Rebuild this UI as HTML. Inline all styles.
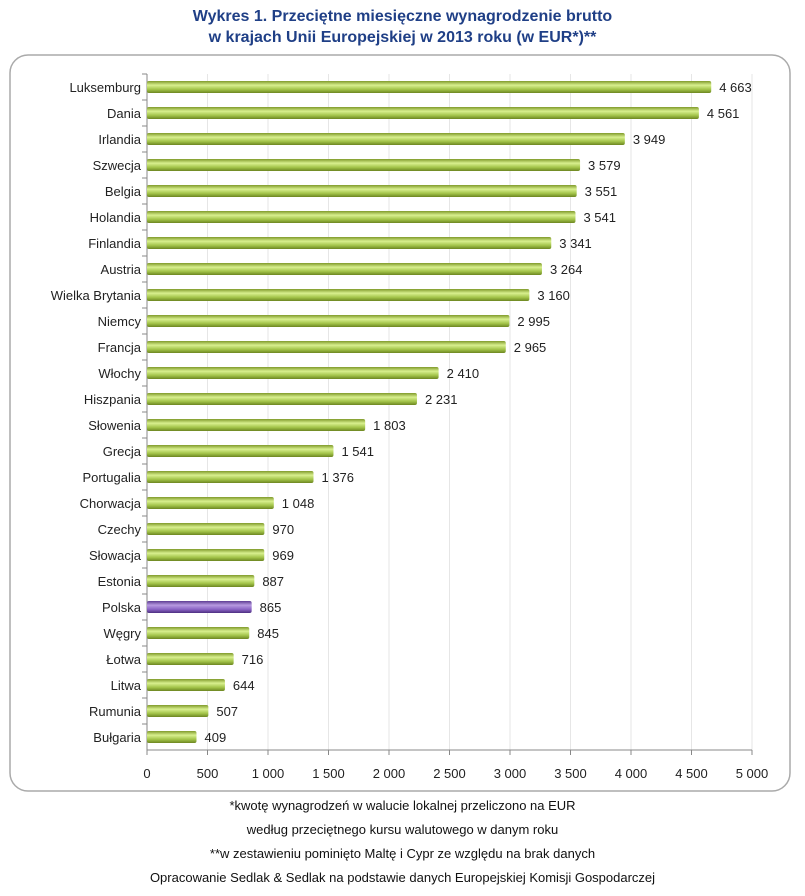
<!DOCTYPE html>
<html><head><meta charset="utf-8"><style>
body{margin:0;width:805px;height:896px;background:#fff;font-family:"Liberation Sans",sans-serif;position:relative;overflow:hidden}
.t{position:absolute;left:0;width:805px;text-align:center;color:#1f3f86;font-weight:bold;font-size:16px}
.n{position:absolute;left:0;width:805px;text-align:center;color:#111;font-size:13px}
</style></head><body>
<div class="t" style="top:8px">Wykres 1. Przeciętne miesięczne wynagrodzenie brutto</div>
<div class="t" style="top:29px">w krajach Unii Europejskiej w 2013 roku (w EUR*)**</div>
<svg id="c" width="805" height="800" style="position:absolute;left:0;top:0">
<defs><linearGradient id="g" x1="0" y1="0" x2="0" y2="1"><stop offset="0" stop-color="#7f9a2a"/><stop offset="0.35" stop-color="#d8ef8e"/><stop offset="0.7" stop-color="#a3c44a"/><stop offset="1" stop-color="#6c8620"/></linearGradient>
<linearGradient id="p" x1="0" y1="0" x2="0" y2="1"><stop offset="0" stop-color="#5d3c93"/><stop offset="0.35" stop-color="#b79ae0"/><stop offset="0.7" stop-color="#8a63c4"/><stop offset="1" stop-color="#4d2f80"/></linearGradient></defs>
<rect x="10" y="55" width="780" height="736" rx="18" fill="none" stroke="#aaa" stroke-width="1.5"/>
</svg>
<div class="n" style="top:798px">*kwotę wynagrodzeń w walucie lokalnej przeliczono na EUR</div>
<div class="n" style="top:822px">według przeciętnego kursu walutowego w danym roku</div>
<div class="n" style="top:846px">**w zestawieniu pominięto Maltę i Cypr ze względu na brak danych</div>
<div class="n" style="top:870px">Opracowanie Sedlak &amp; Sedlak na podstawie danych Europejskiej Komisji Gospodarczej</div>
<script>
const categories=["Luksemburg","Dania","Irlandia","Szwecja","Belgia","Holandia","Finlandia","Austria","Wielka Brytania","Niemcy","Francja","Włochy","Hiszpania","Słowenia","Grecja","Portugalia","Chorwacja","Czechy","Słowacja","Estonia","Polska","Węgry","Łotwa","Litwa","Rumunia","Bułgaria"];
const values=[4663,4561,3949,3579,3551,3541,3341,3264,3160,2995,2965,2410,2231,1803,1541,1376,1048,970,969,887,865,845,716,644,507,409];
const valueLabels=["4 663","4 561","3 949","3 579","3 551","3 541","3 341","3 264","3 160","2 995","2 965","2 410","2 231","1 803","1 541","1 376","1 048","970","969","887","865","845","716","644","507","409"];
const ticks=[0,500,1000,1500,2000,2500,3000,3500,4000,4500,5000];
const tickLabels=["0","500","1 000","1 500","2 000","2 500","3 000","3 500","4 000","4 500","5 000"];
const highlight="Polska";
const svg=document.getElementById('c'),NS="http://www.w3.org/2000/svg";
const x0=147,x1=752,yTop=74,yBot=750,band=(yBot-yTop)/categories.length;
const X=v=>x0+(x1-x0)*v/5000, Y=i=>yTop+band*(i+0.5);
function mk(t,a){const e=document.createElementNS(NS,t);for(const k in a)e.setAttribute(k,a[k]);svg.appendChild(e);return e;}
ticks.forEach((t,i)=>{
 if(i>0){const l=mk('line',{x1:X(t),x2:X(t),y1:yTop,y2:yBot,stroke:'#e6e6e6'});
 
 }
 const tk=mk('line',{x1:X(t),x2:X(t),y1:yBot,y2:yBot+5,stroke:'#888'});
 
 
 const tx=mk('text',{x:X(t),y:yBot+28,'text-anchor':'middle','font-size':'13',fill:'#222'});
 tx.textContent=tickLabels[i];
 
 
});
const ax=mk('line',{x1:x0,x2:x1,y1:yBot,y2:yBot,stroke:'#888'});


const ay=mk('line',{x1:x0,x2:x0,y1:yTop,y2:yBot,stroke:'#888'});


categories.forEach((c,i)=>{
 const tk=mk('line',{x1:x0-5,x2:x0,y1:yTop+band*i,y2:yTop+band*i,stroke:'#888'});
 
 
 const y=Y(i);
 const b=mk('rect',{x:x0,y:y-6,width:X(values[i])-x0,height:12,rx:2,fill:c===highlight?'url(#p)':'url(#g)'});
 
 
 const l=mk('text',{x:x0-6,y:y+5,'text-anchor':'end','font-size':'13',fill:'#222'});
 l.textContent=c;
 
 
 const v=mk('text',{x:X(values[i])+8,y:y+5,'font-size':'13',fill:'#222'});
 v.textContent=valueLabels[i];
 
 
});
</script>
</body></html>
